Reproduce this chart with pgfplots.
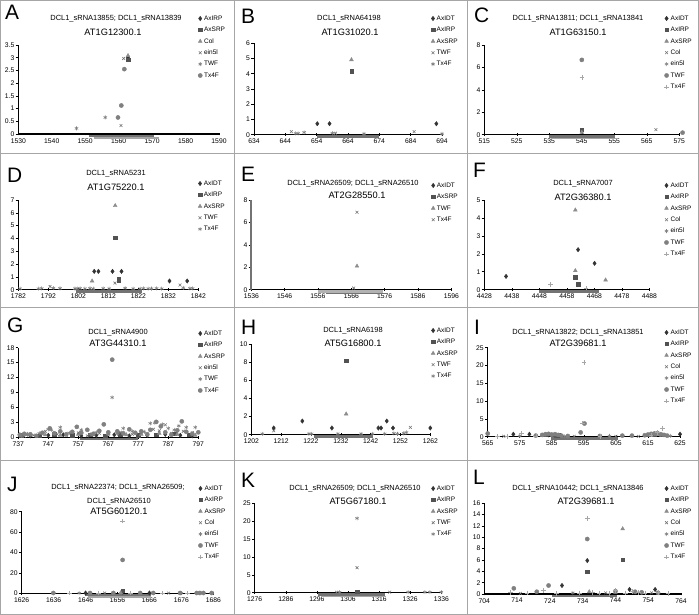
\documentclass[border=0pt]{standalone}
\usepackage{fontspec}
\setmainfont{Liberation Sans}
\usepackage{pgfplots}
\pgfplotsset{compat=1.18}
\pgfplotsset{
  mk/.style={only marks, legend image code/.code={\draw[##1] plot coordinates {(0bp,0bp)};}},
  s1/.style={mk, mark=diamond*, mark size=2.2bp, color=black!80},
  s2/.style={mk, mark=square*, mark size=1.7bp, color=black!68},
  s3/.style={mk, mark=triangle*, mark size=2.2bp, color=black!45},
  s4/.style={mk, mark=x, mark size=2bp, color=black!55, mark options={line width=0.55bp}},
  s5/.style={mk, mark=asterisk, mark size=2bp, color=black!50, mark options={line width=0.55bp}},
  s6/.style={mk, mark=*, mark size=2.1bp, color=black!50},
  s7/.style={mk, mark=+, mark size=2.3bp, color=black!35, mark options={line width=0.55bp}},
  bar1/.style={forget plot, no markers, line width=2.3bp, color=black!55, yshift=-1.8bp},
  bar2/.style={forget plot, no markers, line width=1.6bp, color=black!35, yshift=-3.9bp},
  panel/.style={
    scale only axis, anchor=south west, clip=false,
    axis x line=bottom, axis y line=left,
    axis line style={-, black, line width=0.9bp},
    x axis line style={line width=1.3bp},
    ymin=0, enlargelimits=false, scaled ticks=false,
    tick style={black, line width=0.6bp},
    major tick length=2.6bp,
    xtick align=center, ytick align=outside,
    ticklabel style={font=\fontsize{6.8}{7.5}\selectfont},
    /pgf/number format/assume math mode=true,
    /pgf/number format/1000 sep={},
    xticklabel style={inner sep=1.2bp, yshift=-1.6bp},
    yticklabel style={inner sep=1.2bp},
    legend cell align=left,
    legend style={draw=none, fill=none, anchor=north west, inner sep=0pt,
      font=\fontsize{6.5}{6.5}\selectfont, row sep=5.8bp, column sep=1.8bp,
      nodes={inner sep=0pt, text height=4.6bp, text depth=1bp}},
  },
}
\newcommand\tA{\fontsize{7.5}{8}\selectfont}
\newcommand\tB{\fontsize{9.3}{10}\selectfont}
\newcommand\tL{\fontsize{21}{22}\selectfont}
\begin{document}
\begin{tikzpicture}[x=1bp,y=1bp]
\useasboundingbox (0,0) rectangle (699,615);
% frame
\draw[black!35, line width=0.8bp] (0.5,0.5) rectangle (698.5,614.5);
\draw[black!35, line width=0.8bp] (234,0) -- (234,615) (467.5,0) -- (467.5,615)
  (0,462) -- (699,462) (0,308) -- (699,308) (0,155) -- (699,155);

% ---------------- A
\begin{axis}[panel, at={(18.3bp,481bp)}, width=200.7bp, height=89bp,
  xmin=1530, xmax=1590, ymax=3.5, xtick={1530,1540,...,1590},
  ytick={0,0.5,1,1.5,2,2.5,3,3.5}, legend style={at={(0.895,1.331)}}]
\addplot[bar1] coordinates {(1551,0)(1570.5,0)};
\addplot[bar2] coordinates {(1552.5,0)(1572,0)};
\addplot[s1] coordinates {(1562.8,3.02)}; \addlegendentry{AxIRP}
\addplot[s2] coordinates {(1562.8,2.92)}; \addlegendentry{AxSRP}
\addplot[s3] coordinates {(1562.8,3.08)}; \addlegendentry{Col}
\addplot[s4] coordinates {(1561.5,2.97)(1560.7,0.33)}; \addlegendentry{ein5l}
\addplot[s5] coordinates {(1547.4,0.22)(1556,0.65)}; \addlegendentry{TWF}
\addplot[s6] coordinates {(1559.8,0.65)(1560.8,1.12)(1561.7,2.55)}; \addlegendentry{Tx4F}
\end{axis}

% ---------------- B
\begin{axis}[panel, at={(254bp,480.3bp)}, width=188bp, height=91.4bp,
  xmin=634, xmax=694, ymax=6, xtick={634,644,...,694},
  ytick={0,1,...,6}, legend style={at={(0.941,1.304)}}]
\addplot[bar1] coordinates {(654,0)(674,0)};
\addplot[s1] coordinates {(654.2,0.72)(658.1,0.72)(692.2,0.72)}; \addlegendentry{AxIDT}
\addplot[s2] coordinates {(665.1,4.16)}; \addlegendentry{AxIRP}
\addplot[s3] coordinates {(665.1,4.92)}; \addlegendentry{AxSRP}
\addplot[s4] coordinates {(645.9,0.2)(660,0.1)(685.1,0.2)}; \addlegendentry{TWF}
\addplot[s5] coordinates {(647.3,0.08)(648.1,0.08)(650,0.15)(659,0.1)(669.1,0.05)(694,0.05)}; \addlegendentry{Tx4F}
\end{axis}

% ---------------- C
\begin{axis}[panel, at={(484.3bp,480.3bp)}, width=195bp, height=89.7bp,
  xmin=515, xmax=575, ymax=8, xtick={515,525,...,575},
  ytick={0,2,...,8}, legend style={at={(0.922,1.329)}}]
\addplot[bar1] coordinates {(534.8,0)(555.2,0)};
\addplot[bar2] coordinates {(535.5,0)(556.2,0)};
\addplot[s1] coordinates {(545,0.3)}; \addlegendentry{AxIDT}
\addplot[s2] coordinates {(545,0.45)}; \addlegendentry{AxIRP}
\addplot[s3] coordinates {(545,0.2)}; \addlegendentry{AxSRP}
\addplot[s4] coordinates {(567.8,0.45)}; \addlegendentry{Col}
\addlegendimage{s5} \addlegendentry{ein5l}
\addplot[s6] coordinates {(545,6.67)(576,0.18)}; \addlegendentry{TWF}
\addplot[s7] coordinates {(545,5.1)}; \addlegendentry{Tx4F}
\end{axis}

% ---------------- D
\begin{axis}[panel, at={(18.3bp,325.3bp)}, width=180bp, height=89.7bp,
  xmin=1782, xmax=1842, ymax=7, xtick={1782,1792,...,1842},
  ytick={0,1,...,7}, legend style={at={(0.998,1.217)}}]
\addplot[bar1] coordinates {(1801.2,0)(1823.1,0)};
\addplot[s1] coordinates {(1807.3,1.43)(1808.7,1.43)(1813.4,1.43)(1816.4,1.43)(1832.4,0.68)(1838.3,0.68)}; \addlegendentry{AxIDT}
\addplot[s2] coordinates {(1814.3,4.06)(1815.4,0.83)(1815.4,0.75)}; \addlegendentry{AxIRP}
\addplot[s3] coordinates {(1814.3,6.56)(1806.6,0.68)}; \addlegendentry{AxSRP}
\addplot[s4] coordinates {(1814.2,0.52)(1792.6,0.25)(1835.9,0.36)}; \addlegendentry{TWF}
\addplot[s5] coordinates {(1782.6,0.08)(1788.7,0.08)(1789.8,0.1)(1793.7,0.12)(1795.9,0.1)(1800.9,0.08)(1801.7,0.08)(1802.6,0.1)(1804.2,0.08)(1805.9,0.1)(1807,0.08)(1810.3,0.1)(1812.3,0.08)(1817.6,0.12)(1820.3,0.08)(1822.6,0.08)(1823.7,0.1)(1825.3,0.08)(1826.4,0.08)(1828.1,0.1)(1829.8,0.08)(1837,0.15)(1839.2,0.1)(1840.1,0.1)}; \addlegendentry{Tx4F}
\end{axis}

% ---------------- E
\begin{axis}[panel, at={(251.3bp,325.3bp)}, width=200bp, height=89.7bp,
  xmin=1536, xmax=1596, ymax=8, xtick={1536,1546,...,1596},
  y axis line style={black!55, line width=1.8bp},
  ytick={0,2,...,8}, legend style={at={(0.899,1.195)}}]
\addplot[bar1, color=black!30] coordinates {(1556,0)(1575.5,0)};
\addplot[bar2, color=black!55] coordinates {(1558.5,0)(1577,0)};
\addlegendimage{s1} \addlegendentry{AxIDT}
\addlegendimage{s2} \addlegendentry{AxSRP}
\addplot[s3] coordinates {(1567.7,2.1)}; \addlegendentry{TWF}
\addplot[s4] coordinates {(1567.7,6.9)(1566.7,0.15)}; \addlegendentry{Tx4F}
\end{axis}

% ---------------- F
\begin{axis}[panel, at={(484.3bp,325.3bp)}, width=165bp, height=89.7bp,
  xmin=4428, xmax=4488, ymax=5, xtick={4428,4438,...,4488},
  ytick={0,1,...,5}, legend style={at={(1.089,1.195)}}]
\addplot[bar1] coordinates {(4448,0)(4469.8,0)};
\addplot[s1] coordinates {(4435.9,0.74)(4462.1,2.23)(4468.1,1.47)}; \addlegendentry{AxIDT}
\addplot[s2] coordinates {(4461,0.69)(4462.1,0.3)}; \addlegendentry{AxIRP}
\addplot[s3] coordinates {(4461.1,4.44)(4461.1,1.06)(4472.1,0.54)}; \addlegendentry{AxSRP}
\addlegendimage{s4} \addlegendentry{Col}
\addlegendimage{s5} \addlegendentry{ein5l}
\addlegendimage{s6} \addlegendentry{TWF}
\addplot[s7] coordinates {(4452,0.3)(4465,0.09)}; \addlegendentry{Tx4F}
\end{axis}

% ---------------- G
\begin{axis}[panel, at={(18.3bp,177.7bp)}, width=180bp, height=89.6bp,
  xmin=737, xmax=797, ymax=18, xtick={737,747,...,797},
  ytick={0,3,...,18}, legend style={at={(0.998,1.192)}}]
\addplot[bar1] coordinates {(757.6,0)(777,0)};
\addplot[s1] coordinates {(741,0.3)(747,0.4)(752,0.5)(758,0.3)(763,0.4)(769,0.5)(774,0.3)(780,0.4)(786,0.6)(791,0.4)(795,0.3)}; \addlegendentry{AxIDT}
\addplot[s2] coordinates {(738,0.4)(744,0.3)(749,0.6)(755,0.4)(761,0.5)(766,0.3)(771,0.6)(777,0.4)(783,0.5)(789,0.7)(794,0.5)}; \addlegendentry{AxIRP}
\addplot[s3] coordinates {(740,0.6)(746,0.5)(751,0.4)(757,0.6)(762,0.5)(767,0.7)(773,0.5)(778,0.6)(784,0.8)(790,0.6)(796,0.4)}; \addlegendentry{AxSRP}
\addplot[s4] coordinates {(739,0.2)(742,0.4)(746,1.2)(750,0.6)(753,0.4)(757,0.9)(760,0.3)(764,0.8)(767,0.5)(771,1.0)(775,0.6)(778,0.9)(782,1.6)(784,1.3)(786,2.5)(788,0.8)(792,1.2)(795,0.9)}; \addlegendentry{ein5l}
\addplot[s5] coordinates {(738,0.3)(740,0.5)(744,0.8)(747,1.6)(748,1.5)(751,2.0)(754,0.9)(758,1.5)(761,0.6)(763,1.0)(768.3,8.0)(770,0.7)(772,1.8)(775,1.2)(779,1.1)(781,2.8)(782.5,2.9)(785,2.6)(787,1.8)(789,1.5)(790.5,2.3)(793,2.0)(796,2.0)}; \addlegendentry{TWF}
\addplot[s6] coordinates {(737.5,0.5)(739,0.7)(741,0.6)(743,0.3)(745,0.9)(747.5,1.8)(749,0.8)(751,1.2)(753,0.6)(755,1.1)(756.5,2.1)(758,0.9)(760,1.5)(762,0.7)(764,1.3)(765.5,2.6)(767,1.0)(768.3,15.6)(770,1.2)(772,0.8)(774,1.6)(776,0.9)(778,1.2)(780,0.6)(781,1.5)(783,3.1)(784.5,2.2)(786,1.0)(788,0.5)(790,1.4)(791.5,3.2)(793,1.1)(795,0.7)(797,1.0)}; \addlegendentry{Tx4F}
\end{axis}

% ---------------- H
\begin{axis}[panel, at={(251.3bp,180.3bp)}, width=179bp, height=90.4bp,
  xmin=1202, xmax=1262, ymax=10, xtick={1202,1212,...,1262},
  ytick={0,2,...,10}, legend style={at={(1.004,1.186)}}]
\addplot[bar1] coordinates {(1223,0)(1242.8,0)};
\addplot[s1] coordinates {(1209.5,0.74)(1219.1,1.51)(1229,0.74)(1244.6,0.74)(1245.5,0.74)(1247.4,1.51)(1249.5,0.74)(1262,0.74)}; \addlegendentry{AxIDT}
\addplot[s2] coordinates {(1233.8,8.19)}; \addlegendentry{AxIRP}
\addplot[s3] coordinates {(1233.8,2.29)}; \addlegendentry{AxSRP}
\addplot[s4] coordinates {(1209.5,0.44)(1255.3,0.81)}; \addlegendentry{TWF}
\addplot[s5] coordinates {(1205.7,0.1)(1221.3,0.1)(1222.2,0.1)(1231,0.1)(1238.8,0.1)(1242.6,0.1)(1246.7,0.1)(1249.8,0.15)(1251,0.1)(1253.1,0.15)(1254,0.25)}; \addlegendentry{Tx4F}
\end{axis}

% ---------------- I
\begin{axis}[panel, at={(487.7bp,178.3bp)}, width=192.3bp, height=89bp,
  xmin=565, xmax=625, ymax=25, xtick={565,575,...,625},
  ytick={0,5,...,25}, legend style={at={(0.917,1.204)}}]
\addplot[bar1] coordinates {(584.8,0)(605.7,0)};
\addplot[s1] coordinates {(573,0.7)(578,0.7)(625,0.7)(584,0.5)(586,0.4)}; \addlegendentry{AxIDT}
\addplot[s2] coordinates {(583,0.5)(585,0.6)(587,0.4)(617,0.5)(619,0.6)}; \addlegendentry{AxIRP}
\addplot[s3] coordinates {(582,0.4)(586,0.5)(616,0.4)(618,0.6)}; \addlegendentry{AxSRP}
\addplot[s4] coordinates {(570,0.1)(592,0.1)(605,0.1)(612,0.1)}; \addlegendentry{Col}
\addplot[s5] coordinates {(575,0.2)(589,0.1)(603,0.2)(622,0.2)}; \addlegendentry{ein5l}
\addplot[s6] coordinates {(565,0.9)(580,0.3)(582,0.5)(583,0.7)(584,0.8)(585,0.6)(586,0.7)(587,0.5)(588,0.3)(590,0.2)(594,1.2)(595.2,3.7)(600,0.2)(607,0.3)(610,0.3)(614,0.4)(615,0.6)(616,0.8)(617,0.9)(618,1.0)(619,0.7)(620,0.5)(621,0.3)}; \addlegendentry{TWF}
\addplot[s7] coordinates {(595,20.9)(594.5,3.8)(575.5,0.9)(580,0.2)(619.6,2.3)(618,1.2)(616,0.5)(568,0.1)(571,0.1)(600,0.1)}; \addlegendentry{Tx4F}
\end{axis}

% ---------------- J
\begin{axis}[panel, at={(21.7bp,21.7bp)}, width=191.6bp, height=81.6bp,
  xmin=1626, xmax=1686, ymax=80, xtick={1626,1636,...,1686},
  ytick={0,20,...,80}, legend style={at={(0.920,1.321)}}]
\addplot[bar1] coordinates {(1645.8,0)(1666.4,0)};
\addplot[bar2] coordinates {(1646.9,0)(1666.4,0)};
\addplot[s1] coordinates {(1657.6,1.2)(1646,0.3)(1666,0.3)}; \addlegendentry{AxIDT}
\addplot[s2] coordinates {(1657.6,2.3)}; \addlegendentry{AxIRP}
\addplot[s3] coordinates {(1657,0.5)}; \addlegendentry{AxSRP}
\addplot[s4] coordinates {(1652,0.2)(1672,0.2)}; \addlegendentry{Col}
\addplot[s5] coordinates {(1644,0.2)(1676,0.2)}; \addlegendentry{ein5l}
\addplot[s6] coordinates {(1657.6,32.7)(1635.9,0.3)(1647.4,0.3)(1654.7,0.3)(1663.1,0.3)(1667.2,0.3)(1675.6,0.3)(1680.8,0.3)(1681.8,0.3)(1682.9,0.3)(1685.5,0.3)}; \addlegendentry{TWF}
\addplot[s7] coordinates {(1657.6,70.9)(1641,0.2)(1650,0.2)(1660,0.2)(1670,0.2)(1678,0.2)}; \addlegendentry{Tx4F}
\end{axis}

% ---------------- K
\begin{axis}[panel, at={(254.7bp,22.3bp)}, width=186.6bp, height=89.4bp,
  xmin=1276, xmax=1336, ymax=25, xtick={1276,1286,...,1336},
  ytick={0,5,...,25}, legend style={at={(0.945,1.199)}}]
\addplot[bar1] coordinates {(1296.4,0)(1317.8,0)};
\addplot[bar2] coordinates {(1297.4,0)(1318.1,0)};
\addlegendimage{s1} \addlegendentry{AxIDT}
\addplot[s2] coordinates {(1308.9,0.2)}; \addlegendentry{AxIRP}
\addlegendimage{s3} \addlegendentry{AxSRP}
\addplot[s4] coordinates {(1308.9,7.0)(1302.3,0.15)(1319.4,0.15)}; \addlegendentry{TWF}
\addplot[s5] coordinates {(1308.9,20.8)(1303.3,0.15)(1325.3,0.15)(1330.7,0.15)(1332.3,0.15)(1336,0.15)}; \addlegendentry{Tx4F}
\end{axis}

% ---------------- L
\begin{axis}[panel, at={(484.3bp,21bp)}, width=196.7bp, height=90.7bp,
  xmin=704, xmax=764, ymax=16, xtick={704,714,...,764},
  ytick={0,2,...,16}, legend style={at={(0.914,1.196)}}]
\addplot[bar1] coordinates {(724.7,0)(744.4,0)};
\addplot[s1] coordinates {(735.4,5.9)(727.7,1.5)(748.3,0.8)(756.1,0.8)}; \addlegendentry{AxIDT}
\addplot[s2] coordinates {(735.4,3.9)(746.2,6.0)}; \addlegendentry{AxIRP}
\addplot[s3] coordinates {(746.2,11.5)(736,0.4)(744,0.3)}; \addlegendentry{AxSRP}
\addplot[s4] coordinates {(715,0.1)(741,0.2)(755,0.2)}; \addlegendentry{Col}
\addplot[s5] coordinates {(731,0.2)(750,0.3)}; \addlegendentry{ein5l}
\addplot[s6] coordinates {(735.4,9.7)(713,1.0)(723.6,1.5)(720,0.4)(744,0.5)(750,0.4)(752,0.3)(757,0.2)}; \addlegendentry{TWF}
\addplot[s7] coordinates {(735.4,13.35)(712,0.3)(717,0.2)(722,0.6)(726,0.1)(733,0.2)(737,0.3)(739,0.2)(742,0.1)(744,0.6)(747,0.2)(749,0.4)(751,0.3)(753,0.2)(757,0.3)(760,0.1)}; \addlegendentry{Tx4F}
\end{axis}

% ---------------- titles
\node[anchor=base] at (116,594) {\tA DCL1\_sRNA13855; DCL1\_sRNA13839};
\node[anchor=base] at (113,579) {\tB AT1G12300.1};
\node[anchor=base] at (349,594) {\tA DCL1\_sRNA64198};
\node[anchor=base] at (350,579) {\tB AT1G31020.1};
\node[anchor=base] at (578,594) {\tA DCL1\_sRNA13811; DCL1\_sRNA13841};
\node[anchor=base] at (578,579) {\tB AT1G63150.1};
\node[anchor=base] at (116,439) {\tA DCL1\_sRNA5231};
\node[anchor=base] at (116,424.5) {\tB AT1G75220.1};
\node[anchor=base] at (353,429) {\tA DCL1\_sRNA26509; DCL1\_sRNA26510};
\node[anchor=base] at (357,416) {\tB AT2G28550.1};
\node[anchor=base] at (583,429) {\tA DCL1\_sRNA7007};
\node[anchor=base] at (583,414.5) {\tB AT2G36380.1};
\node[anchor=base] at (118,280.6) {\tA DCL1\_sRNA4900};
\node[anchor=base] at (118,268.5) {\tB AT3G44310.1};
\node[anchor=base] at (353,282.3) {\tA DCL1\_sRNA6198};
\node[anchor=base] at (353,268.5) {\tB AT5G16800.1};
\node[anchor=base] at (578,280.6) {\tA DCL1\_sRNA13822; DCL1\_sRNA13851};
\node[anchor=base] at (578,268.5) {\tB AT2G39681.1};
\node[anchor=base] at (118,125.6) {\tA DCL1\_sRNA22374; DCL1\_sRNA26509;};
\node[anchor=base] at (119,111.6) {\tA DCL1\_sRNA26510};
\node[anchor=base] at (119,100.1) {\tB AT5G60120.1};
\node[anchor=base] at (355,124) {\tA DCL1\_sRNA26509; DCL1\_sRNA26510};
\node[anchor=base] at (358,110.1) {\tB AT5G67180.1};
\node[anchor=base] at (578,124) {\tA DCL1\_sRNA10442; DCL1\_sRNA13846};
\node[anchor=base] at (586,110.1) {\tB AT2G39681.1};
% letters
\node[anchor=base west, inner sep=0pt] at (5,595.5) {\tL A};
\node[anchor=base west, inner sep=0pt] at (241,591) {\tL B};
\node[anchor=base west, inner sep=0pt] at (474,592) {\tL C};
\node[anchor=base west, inner sep=0pt] at (7,432) {\tL D};
\node[anchor=base west, inner sep=0pt] at (241,433) {\tL E};
\node[anchor=base west, inner sep=0pt] at (473,437) {\tL F};
\node[anchor=base west, inner sep=0pt] at (7,282) {\tL G};
\node[anchor=base west, inner sep=0pt] at (241,280) {\tL H};
\node[anchor=base west, inner sep=0pt] at (474,280) {\tL I};
\node[anchor=base west, inner sep=0pt] at (7,123) {\tL J};
\node[anchor=base west, inner sep=0pt] at (241,127) {\tL K};
\node[anchor=base west, inner sep=0pt] at (473,130) {\tL L};
\end{tikzpicture}
\end{document}
